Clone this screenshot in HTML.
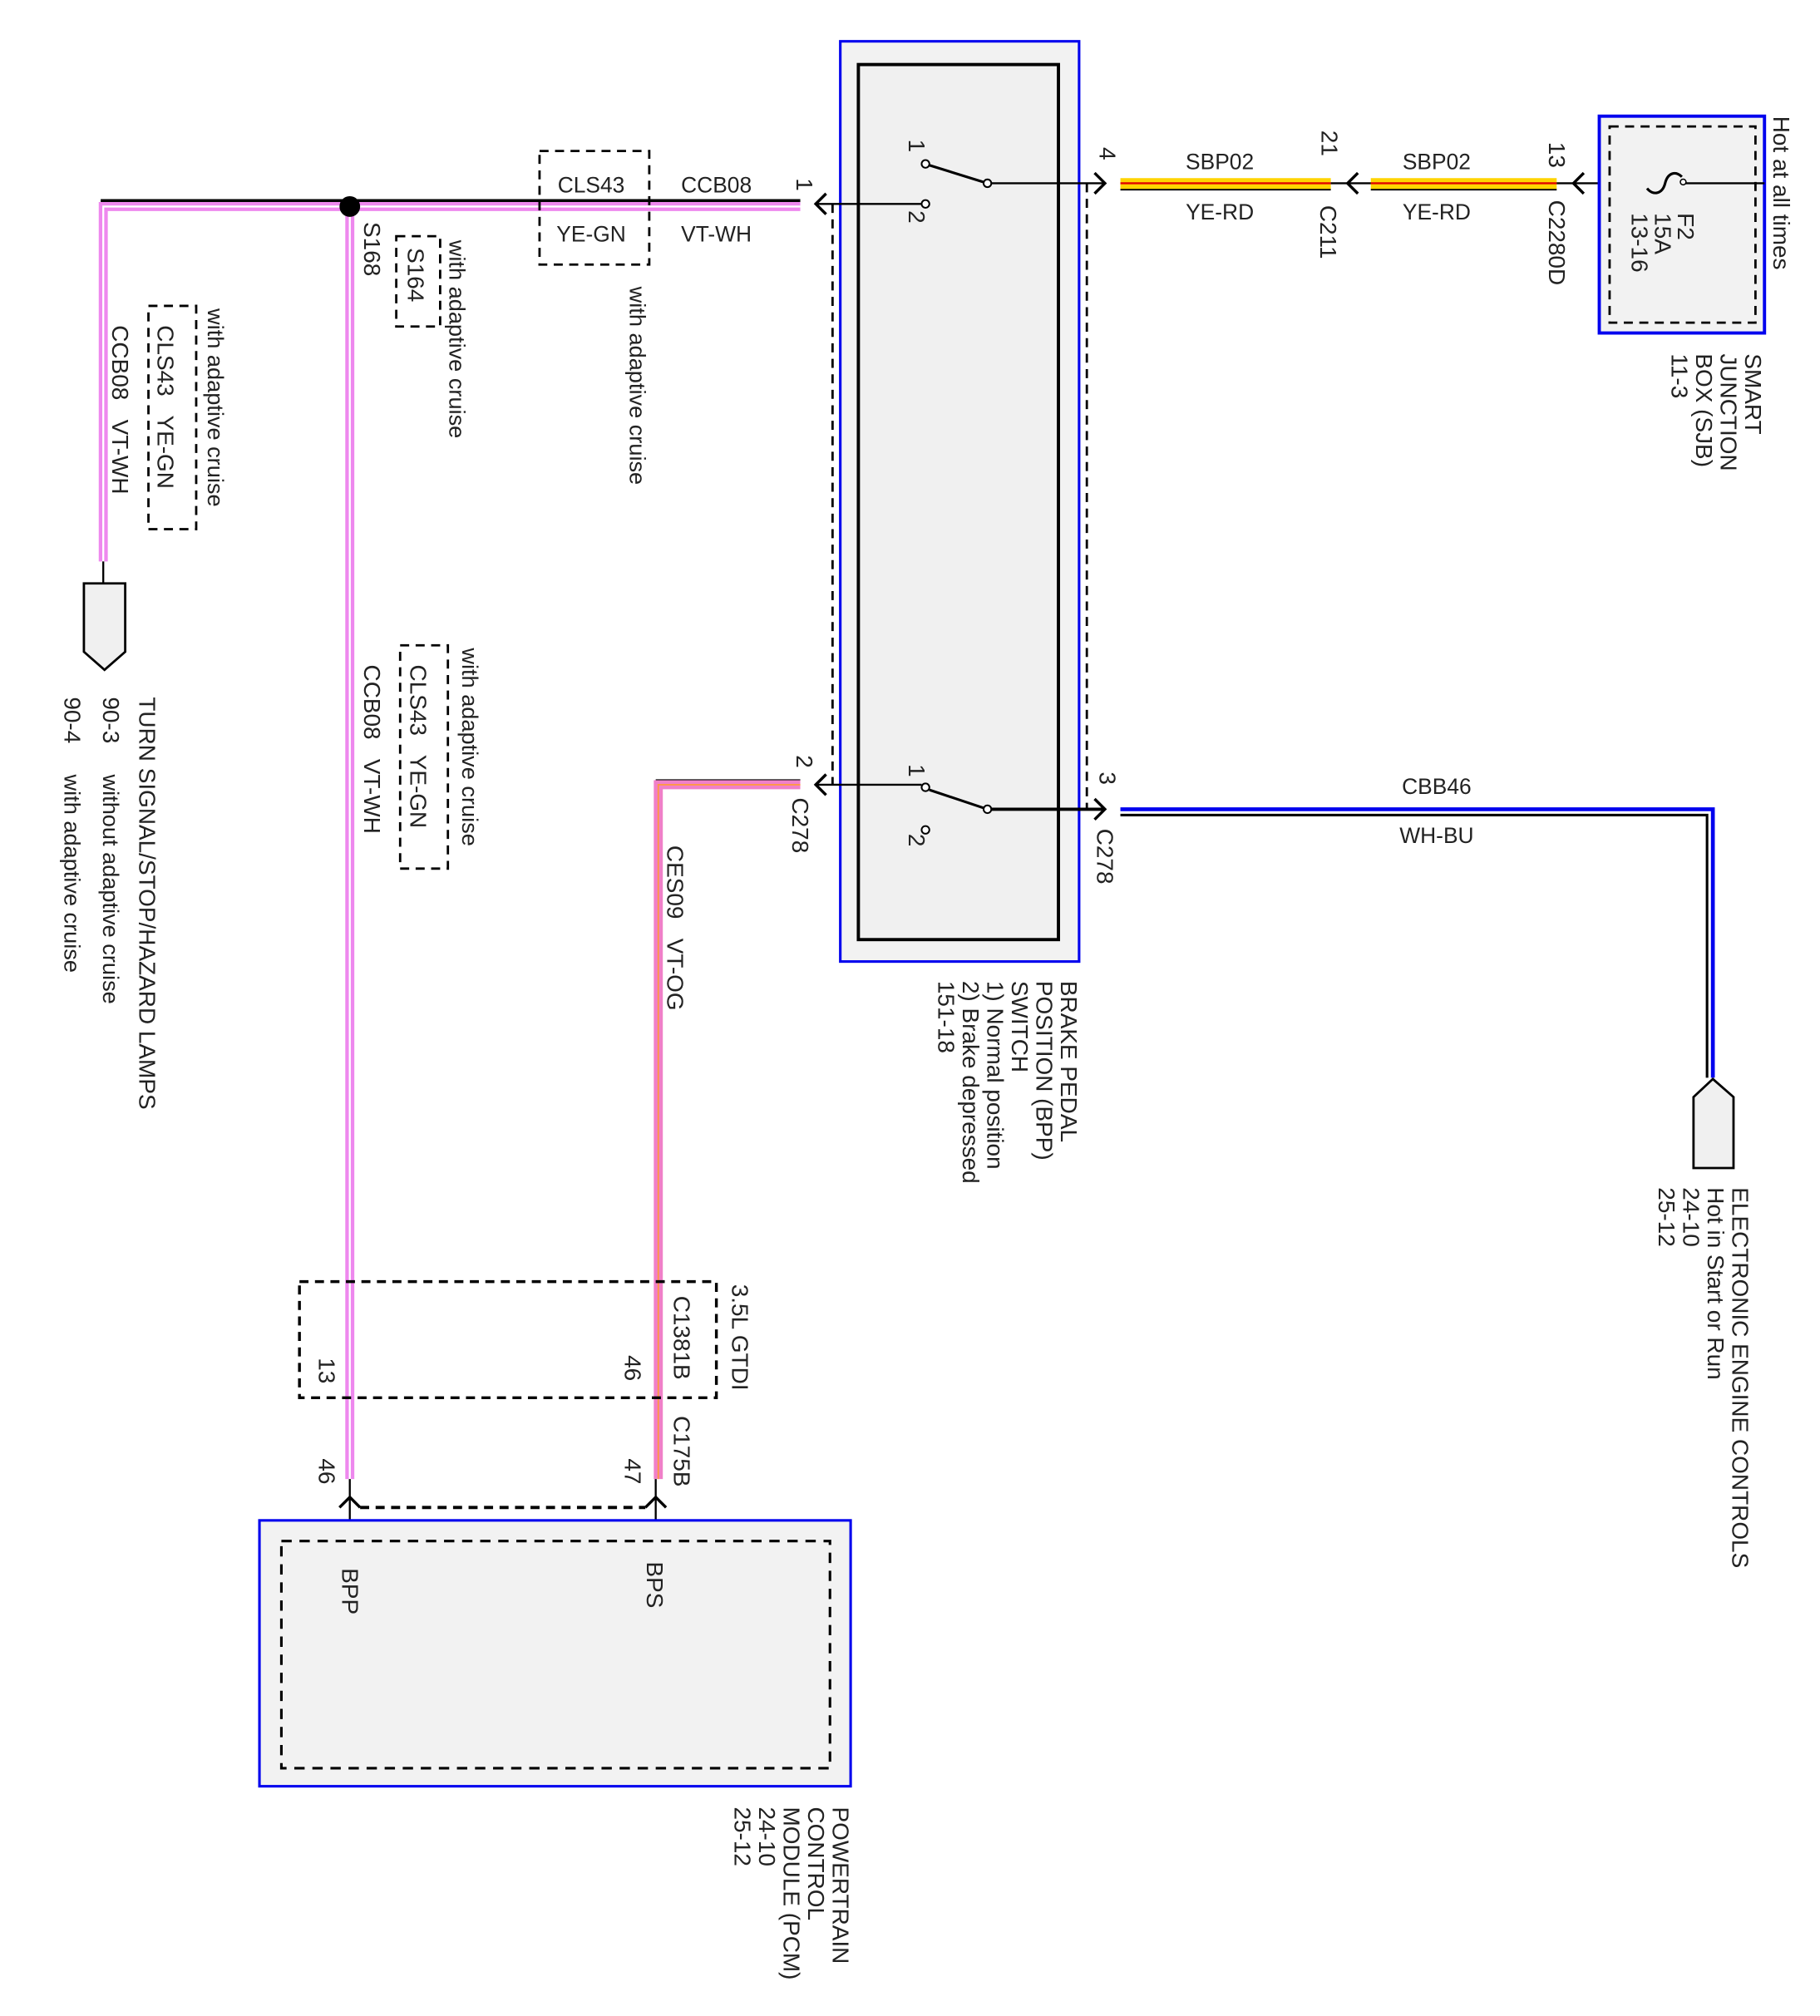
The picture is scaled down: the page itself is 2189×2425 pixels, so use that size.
<!DOCTYPE html>
<html><head><meta charset="utf-8"><style>
html,body{margin:0;padding:0;background:#fff;}
svg{display:block;}
text{font-family:"Liberation Sans",sans-serif;fill:#222;white-space:pre;}
</style></head><body>
<svg width="2189" height="2425" viewBox="0 0 1410 1562" xmlns="http://www.w3.org/2000/svg">
<rect x="0" y="0" width="1410" height="1562" fill="#fff"/>
<g font-size="17">
<rect x="651" y="32" width="185" height="713" fill="#f2f2f2" stroke="#0000ee" stroke-width="2"/>
<rect x="665" y="50" width="155" height="678" fill="#f0f0f0" stroke="#000" stroke-width="2.5"/>
<line x1="645" y1="158" x2="645" y2="608" stroke="#000" stroke-width="1.8" stroke-dasharray="7,5"/>
<line x1="842" y1="142" x2="842" y2="627" stroke="#000" stroke-width="1.8" stroke-dasharray="7,5"/>
<line x1="765" y1="142" x2="855" y2="142" stroke="#000" stroke-width="1.5"/>
<line x1="765" y1="142" x2="720" y2="128" stroke="#000" stroke-width="2"/>
<circle cx="717" cy="127" r="3" fill="#fff" stroke="#000" stroke-width="1.3"/>
<circle cx="717" cy="158" r="3" fill="#fff" stroke="#000" stroke-width="1.3"/>
<circle cx="765" cy="142" r="3" fill="#fff" stroke="#000" stroke-width="1.3"/>
<line x1="714" y1="158" x2="632" y2="158" stroke="#000" stroke-width="1.5"/>
<line x1="765" y1="627" x2="855" y2="627" stroke="#000" stroke-width="2.5"/>
<line x1="765" y1="627" x2="720" y2="612" stroke="#000" stroke-width="2"/>
<circle cx="717" cy="610" r="3" fill="#fff" stroke="#000" stroke-width="1.3"/>
<circle cx="717" cy="643" r="3" fill="#fff" stroke="#000" stroke-width="1.3"/>
<circle cx="765" cy="627" r="3" fill="#fff" stroke="#000" stroke-width="1.3"/>
<line x1="714" y1="608" x2="632" y2="608" stroke="#000" stroke-width="1.5"/>
<g fill="none" stroke="#000" stroke-width="2.2">
<path d="M640 150 L632 158 L640 166"/>
<path d="M640 600 L632 608 L640 616"/>
<path d="M848 134 L856 142 L848 150"/>
<path d="M848 619 L856 627 L848 635"/>
<path d="M1052 134 L1044 142 L1052 150"/>
<path d="M1227 134 L1219 142 L1227 150"/>
<path d="M263 1168 L271 1160 L279 1168"/>
<path d="M500 1168 L508 1160 L516 1168"/>
</g>
<g>
<rect x="868" y="138" width="163" height="9" fill="#ffd400"/>
<line x1="868" y1="142" x2="1031" y2="142" stroke="#e00000" stroke-width="1.5"/>
<line x1="868" y1="147" x2="1031" y2="147" stroke="#000" stroke-width="1.2"/>
<rect x="1062" y="138" width="144" height="9" fill="#ffd400"/>
<line x1="1062" y1="142" x2="1206" y2="142" stroke="#e00000" stroke-width="1.5"/>
<line x1="1062" y1="147" x2="1206" y2="147" stroke="#000" stroke-width="1.2"/>
<line x1="1031" y1="142" x2="1062" y2="142" stroke="#000" stroke-width="1.5"/>
<line x1="1206" y1="142" x2="1276" y2="142" stroke="#000" stroke-width="1.5"/>
</g>
<rect x="1239" y="90" width="128" height="168" fill="#f2f2f2" stroke="#0000ee" stroke-width="2.5"/>
<rect x="1247" y="98" width="113" height="152" fill="none" stroke="#000" stroke-width="1.8" stroke-dasharray="7,5"/>
<path d="M1276 146 C1281 152 1288 150 1290 142 C1292 134 1298 132 1303 137" fill="none" stroke="#000" stroke-width="2"/>
<line x1="1303" y1="142" x2="1367" y2="142" stroke="#000" stroke-width="1.5"/>
<circle cx="1304" cy="141" r="2.2" fill="#fff" stroke="#000"/>
<path d="M868 627 H1327 V835" fill="none" stroke="#0000ee" stroke-width="3"/>
<path d="M868 631.5 H1322.5 V835" fill="none" stroke="#000" stroke-width="2"/>
<path d="M1312 850 L1327 836 L1343 850 V905 H1312 Z" fill="#f0f0f0" stroke="#000" stroke-width="1.8"/>
<line x1="78" y1="155.5" x2="620" y2="155.5" stroke="#000" stroke-width="2.5"/>
<path d="M620 160 H80 V435" fill="none" stroke="#ee88ee" stroke-width="7"/>
<path d="M620 160 H80 V435" fill="none" stroke="#fff" stroke-width="1.5"/>
<line x1="80" y1="435" x2="80" y2="452" stroke="#000" stroke-width="1.5"/>
<path d="M65 452 H97 V505 L81 519 L65 505 Z" fill="#f0f0f0" stroke="#000" stroke-width="1.8"/>
<line x1="271" y1="160" x2="271" y2="1146" stroke="#ee88ee" stroke-width="7"/>
<line x1="271" y1="160" x2="271" y2="1146" stroke="#fff" stroke-width="1.5"/>
<circle cx="271" cy="160" r="8" fill="#000"/>
<line x1="508" y1="604.5" x2="620" y2="604.5" stroke="#000" stroke-width="1.5"/>
<path d="M620 608 H510 V1146" fill="none" stroke="#f080c8" stroke-width="7"/>
<path d="M620 608 H510 V1146" fill="none" stroke="#ff9944" stroke-width="1.2"/>
<line x1="271" y1="1146" x2="271" y2="1195" stroke="#000" stroke-width="1.5"/>
<line x1="508" y1="1146" x2="508" y2="1195" stroke="#000" stroke-width="1.5"/>
<g fill="none" stroke="#000" stroke-width="1.8" stroke-dasharray="7,5">
<rect x="418" y="117" width="85" height="88"/>
<rect x="307" y="183" width="34" height="70"/>
<rect x="115" y="237" width="37" height="173"/>
<rect x="310" y="500" width="37" height="173"/>
<rect x="232" y="993" width="323" height="90" stroke-width="2.2"/>
<line x1="279" y1="1168" x2="500" y2="1168" stroke-width="2.5"/>
</g>
<rect x="201" y="1178" width="458" height="206" fill="#f2f2f2" stroke="#0000ee" stroke-width="2"/>
<rect x="218" y="1194" width="425" height="176" fill="none" stroke="#000" stroke-width="2" stroke-dasharray="8,6"/>

<text x="458" y="149" text-anchor="middle">CLS43</text>
<text x="458" y="187" text-anchor="middle">YE-GN</text>
<text x="555" y="149" text-anchor="middle">CCB08</text>
<text x="555" y="187" text-anchor="middle">VT-WH</text>
<text x="945" y="131" text-anchor="middle">SBP02</text>
<text x="945" y="170" text-anchor="middle">YE-RD</text>
<text x="1113" y="131" text-anchor="middle">SBP02</text>
<text x="1113" y="170" text-anchor="middle">YE-RD</text>
<text x="1113" y="615" text-anchor="middle">CBB46</text>
<text x="1113" y="653" text-anchor="middle">WH-BU</text>

<g font-size="18">
<text transform="translate(617,138) rotate(90)">1</text>
<text transform="translate(617,585) rotate(90)">2</text>
<text transform="translate(614,618) rotate(90)">C278</text>
<text transform="translate(704,108) rotate(90)">1</text>
<text transform="translate(704,163) rotate(90)">2</text>
<text transform="translate(704,592) rotate(90)">1</text>
<text transform="translate(704,646) rotate(90)">2</text>
<text transform="translate(852,114) rotate(90)">4</text>
<text transform="translate(852,598) rotate(90)">3</text>
<text transform="translate(850,642) rotate(90)">C278</text>
<text transform="translate(1024,101) rotate(90)">21</text>
<text transform="translate(1023,159) rotate(90)">C211</text>
<text transform="translate(1200,110) rotate(90)">13</text>
<text transform="translate(1200,155) rotate(90)">C2280D</text>
<text transform="translate(1300,165) rotate(90)">F2</text>
<text transform="translate(1282,165) rotate(90)">15A</text>
<text transform="translate(1264,165) rotate(90)">13-16</text>
<text transform="translate(1374,90) rotate(90)">Hot at all times</text>
<text transform="translate(1352,274) rotate(90)">SMART</text>
<text transform="translate(1333,274) rotate(90)">JUNCTION</text>
<text transform="translate(1314,274) rotate(90)">BOX (SJB)</text>
<text transform="translate(1295,274) rotate(90)">11-3</text>
<text transform="translate(1342,920) rotate(90)">ELECTRONIC ENGINE CONTROLS</text>
<text transform="translate(1323,920) rotate(90)">Hot in Start or Run</text>
<text transform="translate(1304,920) rotate(90)">24-10</text>
<text transform="translate(1285,920) rotate(90)">25-12</text>
<text transform="translate(822,760) rotate(90)">BRAKE PEDAL</text>
<text transform="translate(803,760) rotate(90)">POSITION (BPP)</text>
<text transform="translate(784,760) rotate(90)">SWITCH</text>
<text transform="translate(765,760) rotate(90)">1) Normal position</text>
<text transform="translate(746,760) rotate(90)">2) Brake depressed</text>
<text transform="translate(727,760) rotate(90)">151-18</text>
<text transform="translate(282,172) rotate(90)">S168</text>
<text transform="translate(316,192) rotate(90)">S164</text>
<text transform="translate(348,186) rotate(90)" font-size="17.5">with adaptive cruise</text>
<text transform="translate(488,222) rotate(90)" font-size="17.5">with adaptive cruise</text>
<text transform="translate(161,239) rotate(90)" font-size="17.5">with adaptive cruise</text>
<text transform="translate(122,252) rotate(90)">CLS43   YE-GN</text>
<text transform="translate(87,252) rotate(90)">CCB08   VT-WH</text>
<text transform="translate(358,502) rotate(90)" font-size="17.5">with adaptive cruise</text>
<text transform="translate(318,515) rotate(90)">CLS43   YE-GN</text>
<text transform="translate(282,515) rotate(90)">CCB08   VT-WH</text>
<text transform="translate(108,540) rotate(90)">TURN SIGNAL/STOP/HAZARD LAMPS</text>
<text transform="translate(80,540) rotate(90)">90-3</text>
<text transform="translate(80,600) rotate(90)" font-size="17.5">without adaptive cruise</text>
<text transform="translate(50,540) rotate(90)">90-4</text>
<text transform="translate(50,600) rotate(90)" font-size="17.5">with adaptive cruise</text>
<text transform="translate(517,655) rotate(90)">CES09   VT-OG</text>
<text transform="translate(567,995) rotate(90)">3.5L GTDI</text>
<text transform="translate(522,1004) rotate(90)">C1381B</text>
<text transform="translate(484,1050) rotate(90)">46</text>
<text transform="translate(247,1052) rotate(90)">13</text>
<text transform="translate(522,1097) rotate(90)">C175B</text>
<text transform="translate(484,1130) rotate(90)">47</text>
<text transform="translate(247,1130) rotate(90)">46</text>
<text transform="translate(265,1215) rotate(90)">BPP</text>
<text transform="translate(501,1210) rotate(90)">BPS</text>
<text transform="translate(645,1400) rotate(90)">POWERTRAIN</text>
<text transform="translate(626,1400) rotate(90)">CONTROL</text>
<text transform="translate(607,1400) rotate(90)">MODULE (PCM)</text>
<text transform="translate(588,1400) rotate(90)">24-10</text>
<text transform="translate(569,1400) rotate(90)">25-12</text>
</g>
</g>
</svg>
</body></html>
